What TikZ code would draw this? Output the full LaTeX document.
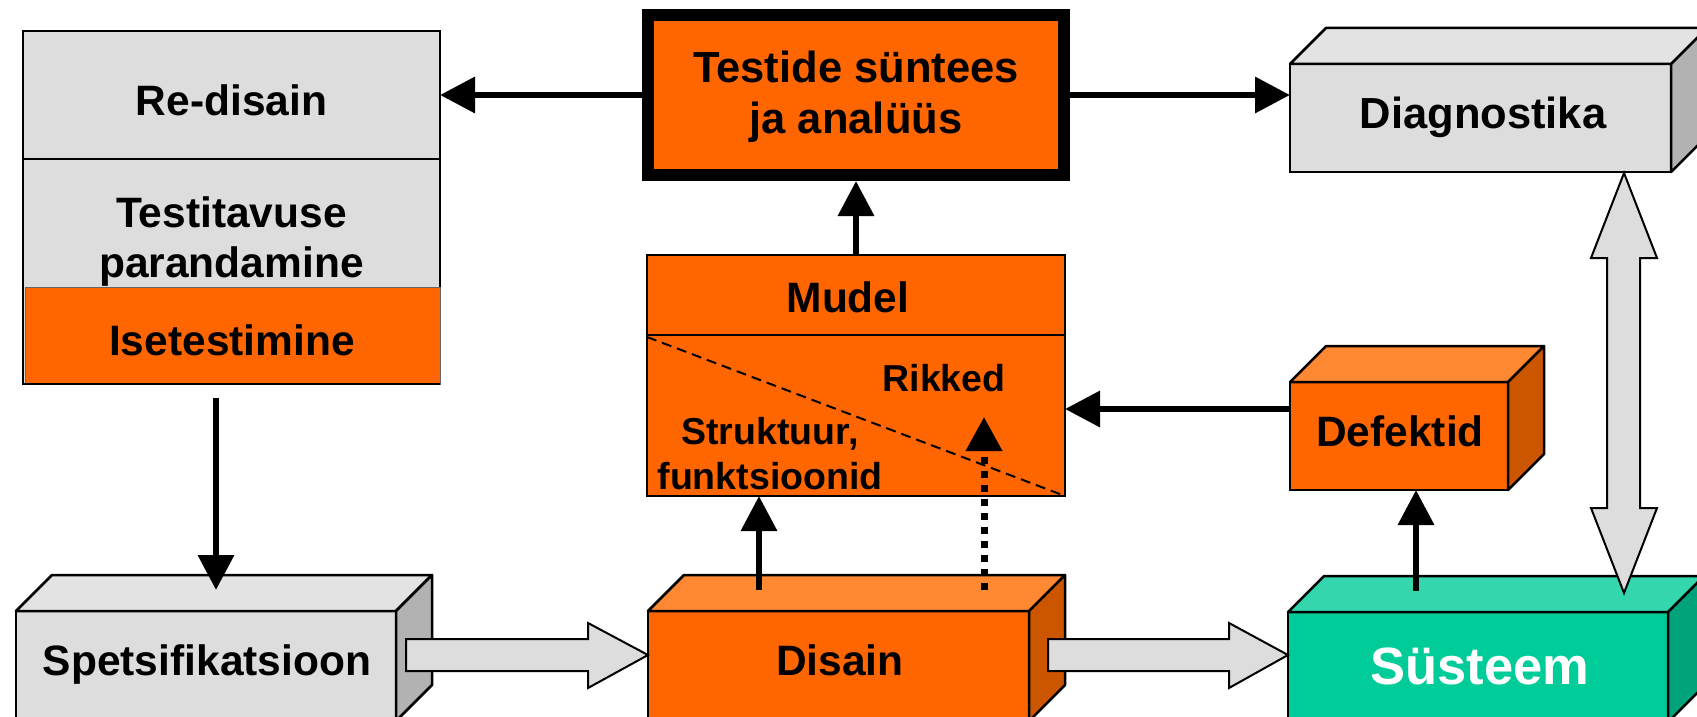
\documentclass[tikz,border=0pt]{standalone}
\usepackage{fontspec}
\setmainfont{Liberation Sans}
\usetikzlibrary{arrows.meta,calc}
\definecolor{org}{HTML}{FF6600}
\definecolor{orgtop}{HTML}{FF8833}
\definecolor{orgside}{HTML}{CC5500}
\definecolor{gry}{HTML}{DDDDDD}
\definecolor{grytop}{HTML}{E3E3E3}
\definecolor{gryside}{HTML}{B2B2B2}
\definecolor{grn}{HTML}{00CC99}
\definecolor{grntop}{HTML}{33D6AD}
\definecolor{grnside}{HTML}{00A37A}
\tikzset{
 box/.style={draw=black, line width=2.5pt, outer sep=0pt, inner sep=0pt, anchor=north west},
 lbl/.style={anchor=base, inner sep=0pt, font=\fontsize{42.5}{50}\selectfont\bfseries},
 big/.style={anchor=base, inner sep=0pt, font=\fontsize{43.5}{50}\selectfont\bfseries},
 sml/.style={anchor=base, inner sep=0pt, font=\fontsize{37.5}{44}\selectfont\bfseries},
 arr/.style={line width=6.5pt, -{Triangle[length=35pt,width=35pt]}},
 darr/.style={line width=7pt, dash pattern=on 7pt off 7pt, -{Triangle[length=34pt,width=35pt]}},
 blk/.style={draw=black, line width=2pt, fill=gry, line join=miter},
 face/.style={draw=black, line width=2.5pt, line join=round},
}
\newcommand{\cubefaces}[3]{%
 \draw[face, fill=#2] (#1.north west) -- ++(36,-36) -- ($(#1.north east)+(36,-36)$) -- (#1.north east) -- cycle;
 \draw[face, fill=#3] (#1.north east) -- ++(36,-36) -- ($(#1.south east)+(36,-36)$) -- (#1.south east) -- cycle;
}
\begin{document}
\begin{tikzpicture}[x=1pt,y=-1pt]
\useasboundingbox (0,0) rectangle (1697,717);
\clip (0,0) rectangle (1697,717);
\fill[white] (0,0) rectangle (1697,717);

% left stacked box
\node[box, fill=gry, minimum width=417pt, minimum height=128pt] (redis) at (23,31) {};
\node[box, fill=gry, minimum width=417pt, minimum height=225pt] (testit) at (23,159) {};
\node[lbl] (tRedis) at (231.5,115) {Re-disain};
\node[lbl] (tTest1) at (231.5,227) {Testitavuse};
\node[lbl] (tTest2) at (231.5,277) {parandamine};
\node[box, draw=black!60, line width=1pt, fill=org, minimum width=415pt, minimum height=97pt] (isetest) at (25,287) {};
\draw[line width=2.5pt] (testit.north west) -- (testit.south west) -- (testit.south east);
\node[lbl] (tIse) at (232,355) {Isetestimine};

% Testide synteesi box
\node[draw=black, line width=12pt, fill=org, outer sep=6pt, minimum width=416pt, minimum height=160pt] (testide) at (856,95) {};
\node[big] (tT1) at (856,82) {Testide süntees};
\node[big] (tT2) at (856,133) {ja analüüs};

% Mudel
\node[box, fill=org, minimum width=418pt, minimum height=241pt] (mudel) at (647,255) {};
\draw[line width=2.5pt] ($(mudel.north west)+(0,80)$) -- ($(mudel.north east)+(0,80)$);
\draw[line width=2pt, dash pattern=on 10pt off 6pt] ($(mudel.north west)+(0,82)$) -- (mudel.south east);
\node[lbl] (tMudel) at (848,312) {Mudel};
\node[sml] (tRikked) at (944,391) {Rikked};
\node[sml] (tStr1) at (770,444) {Struktuur,};
\node[sml] (tStr2) at (770,489) {funktsioonid};

% Diagnostika
\node[box, fill=gry, minimum width=381pt, minimum height=108pt] (diag) at (1290,64) {};
\cubefaces{diag}{grytop}{gryside}
\node[big] (tDiag) at (1483,128) {Diagnostika};

% Defektid
\node[box, fill=org, minimum width=218pt, minimum height=108pt] (defekt) at (1290,382) {};
\cubefaces{defekt}{orgtop}{orgside}
\node[lbl] (tDef) at (1400,446) {Defektid};

% Spetsifikatsioon
\node[box, fill=gry, minimum width=380pt, minimum height=110pt] (spets) at (16,611) {};
\cubefaces{spets}{grytop}{gryside}
\node[lbl] (tSpets) at (207,675) {Spetsifikatsioon};

% Disain
\node[box, fill=org, minimum width=381pt, minimum height=110pt] (disain) at (648,611) {};
\cubefaces{disain}{orgtop}{orgside}
\node[lbl] (tDisain) at (840,675) {Disain};

% Susteem
\node[box, fill=grn, minimum width=380pt, minimum height=110pt] (sys) at (1288,612) {};
\cubefaces{sys}{grntop}{grnside}
\node[anchor=base, inner sep=0pt, text=white, font=\fontsize{52.5}{60}\selectfont\bfseries] (tSys) at (1480,684) {Süsteem};

% black arrows
\draw[arr] (testide.west) -- (redis.east |- testide.west);
\draw[arr] (testide.east) -- (diag.west |- testide.east);
\draw[arr] (mudel.north) -- (testide.south);
\coordinate (dm) at (759,590);
\draw[arr] (dm) -- (dm |- mudel.south);
\coordinate (dr0) at (984,590);
\coordinate (rk) at (984,417);
\draw[darr] (dr0) -- (rk);
\draw[arr] (defekt.west |- 0,409) -- (mudel.east |- 0,409);
\coordinate (ss) at (1416,591);
\draw[arr] (ss) -- (ss |- defekt.south);
\coordinate (lb) at (216,398);
\coordinate (sp) at (216,590);
\draw[arr] (lb) -- (sp);

% block arrows
\draw[blk] (406,639) -- (588,639) -- (588,623) -- (disain.west |- 0,655) -- (588,688) -- (588,671) -- (406,671) -- cycle;
\draw[blk] (1048,639) -- (1229,639) -- (1229,623) -- (sys.west |- 0,655) -- (1229,688) -- (1229,671) -- (1048,671) -- cycle;
\draw[blk] (1624,173) -- (1657,258) -- (1640,258) -- (1640,508) -- (1657,508) -- (1624,593) -- (1591,508) -- (1607,508) -- (1607,258) -- (1591,258) -- cycle;
\end{tikzpicture}
\end{document}
